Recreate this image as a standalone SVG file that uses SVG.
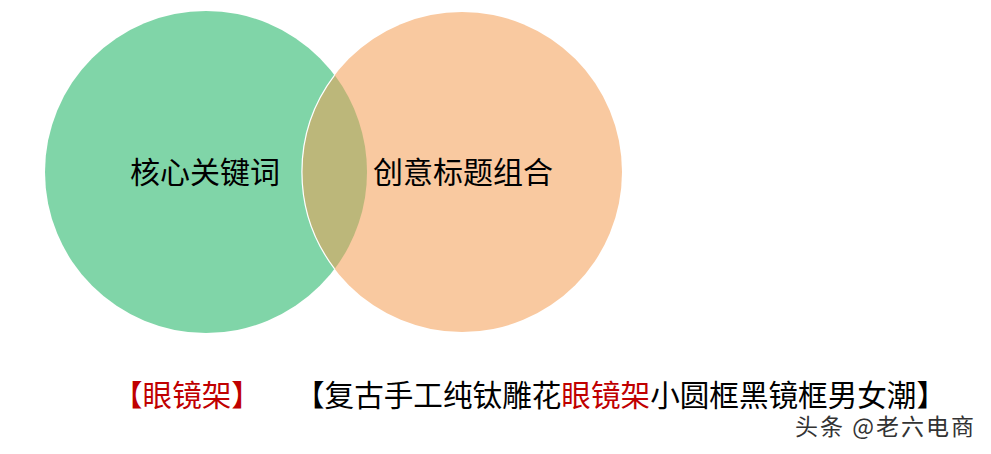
<svg xmlns="http://www.w3.org/2000/svg" width="991" height="454" viewBox="0 0 991 454">
<style>
.t{font-family:"Noto Sans CJK SC","Microsoft YaHei",sans-serif;font-size:30px;fill:#000}
.b{font-size:29.6px}
.red{fill:#C00000}
.wm{font-family:"Noto Sans CJK SC",sans-serif;font-size:23px;fill:#333}
</style>
<rect width="991" height="454" fill="#fff"/>
<g id="node-keyword">
<circle cx="206" cy="172" r="161" fill="#80D5A8"/>
</g>
<g id="node-title">
<circle cx="462" cy="172" r="160" fill="#F9C9A0"/>
</g>
<g id="node-overlap">
<path d="M334.6 75.1 A161 161 0 0 1 334.6 268.9 A160 160 0 0 1 334.6 75.1 Z" fill="#BCB77A"/>
<path d="M334.6 268.9 A160 160 0 0 1 334.6 75.1" fill="none" stroke="#fff" stroke-width="1.2"/>
</g>
<g id="connectors"></g>
<g id="labels">
<text class="t" x="205" y="183" text-anchor="middle">核心关键词</text>
<text class="t" x="463" y="183" text-anchor="middle">创意标题组合</text>
<text class="t b red" x="113" y="406">【眼镜架】</text>
<text class="t b" x="295" y="406">【复古手工纯钛雕花<tspan class="red">眼镜架</tspan>小圆框黑镜框男女潮】</text>
<text class="wm" x="795" y="435" textLength="179" lengthAdjust="spacing">头条 @老六电商</text>
</g>
</svg>
